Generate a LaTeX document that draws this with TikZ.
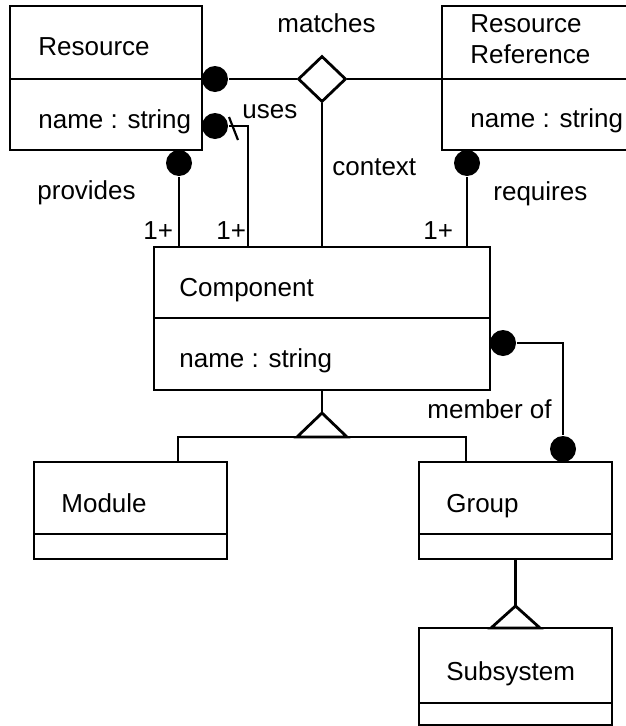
\documentclass[tikz,border=0pt]{standalone}
\usepackage{fontspec}
\setmainfont{Liberation Sans}
\usetikzlibrary{shapes.geometric}
\begin{document}
\begin{tikzpicture}[x=1pt,y=-1pt, line width=2.8pt,
  box/.style={draw, line width=2.8pt, anchor=north west, inner sep=0pt, outer sep=0pt},
  lbl/.style={anchor=base west, inner sep=0pt, font=\fontsize{26}{30}\selectfont},
  dot/.style={circle, fill=black, draw=none, inner sep=0pt, minimum size=26pt},
  thin/.style={line width=2.2pt}]
\useasboundingbox (0,0) rectangle (626,726);

% class boxes
\node[box, minimum width=192pt, minimum height=144pt] (res) at (10,6) {};
\node[box, minimum width=200pt, minimum height=144pt] (rr) at (442,6) {};
\node[box, minimum width=336pt, minimum height=143pt] (comp) at (154,247) {};
\node[box, minimum width=193pt, minimum height=97pt] (mod) at (34,462) {};
\node[box, minimum width=193pt, minimum height=97pt] (grp) at (419,462) {};
\node[box, minimum width=193pt, minimum height=97pt] (sub) at (419,628) {};

% compartment dividers
\draw (10,79) -- (202,79);
\draw (442,79) -- (642,79);
\draw (154,318) -- (490,318);
\draw (34,534) -- (227,534);
\draw (419,534) -- (612,534);
\draw (419,703) -- (612,703);

% class names and attributes
\node[lbl] (tres) at (37,55) {Resource};
\node[lbl] (ares) at (37,128) {name : string};
\node[lbl] (trr1) at (469,32) {Resource};
\node[lbl] (trr2) at (469,63) {Reference};
\node[lbl] (arr) at (469,127) {name : string};
\node[lbl] (tcomp) at (178,296) {Component};
\node[lbl] (acomp) at (178,367) {name : string};
\node[lbl] (tmod) at (60,512) {Module};
\node[lbl] (tgrp) at (445,512) {Group};
\node[lbl] (tsub) at (445,680) {Subsystem};

% association ends
\node[dot] (d1) at (215,79) {};
\node[dot] (d2) at (215,126) {};
\node[dot] (d3) at (179,163) {};
\node[dot] (d4) at (467,163) {};
\node[dot] (d5) at (503,343) {};
\node[dot] (d6) at (563,449) {};
\node[diamond, draw, fill=white, inner sep=0pt, minimum width=48pt, minimum height=46pt] (dia) at (322,79) {};

% associations
\draw (d1) -- (dia);
\draw (dia) -- (dia -| rr.west);
\draw (dia) -- (dia |- comp.north);
\draw (d3) -- (d3 |- comp.north);
\draw (d4) -- (d4 |- comp.north);
\coordinate (usesend) at (248,247);
\draw[thin] (d2) -| (usesend);
\draw[thin] (229,117) -- (238,140);
\draw[thin] (d5) -| (d6);

% generalization: Module, Group -> Component
\coordinate (g1top) at (322,413);
\coordinate (g1base) at (322,437);
\coordinate (mtop) at (178,462);
\coordinate (gtop) at (466,462);
\draw (comp.south) -- (g1top);
\draw (mtop) |- (g1base) -| (gtop);
\draw[fill=white, line join=miter] (g1top) -- (347,437) -- (297,437) -- cycle;

% generalization: Subsystem -> Group
\coordinate (g2top) at (515.5,606);
\draw (grp.south) -- (g2top);
\draw[fill=white, line join=miter] (g2top) -- (540,628) -- (491,628) -- cycle;

% association labels and multiplicities
\node[lbl] (lmatch) at (276,32) {matches};
\node[lbl] (luses) at (241,118) {uses};
\node[lbl] (lprov) at (36,199) {provides};
\node[lbl] (lctx) at (331,175) {context};
\node[lbl] (lreq) at (492,200) {requires};
\node[lbl] (m1) at (142,239) {1+};
\node[lbl] (m2) at (215,239) {1+};
\node[lbl] (m3) at (422,239) {1+};
\node[lbl] (lmem) at (426,418) {member of};
\end{tikzpicture}
\end{document}
